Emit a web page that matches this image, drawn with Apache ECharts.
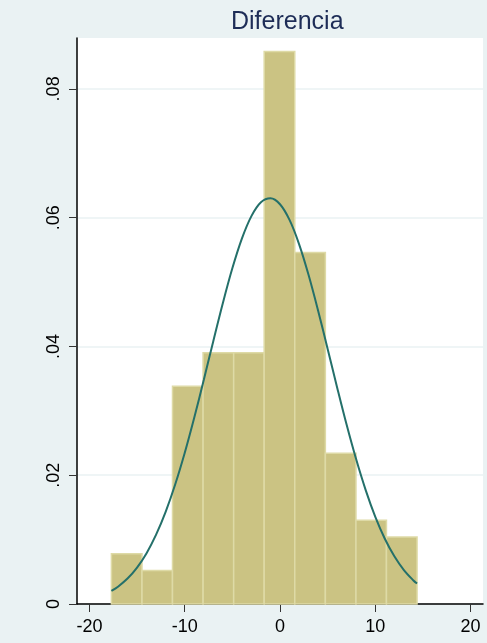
<!DOCTYPE html>
<html>
<head>
<meta charset="utf-8">
<script src="https://cdn.jsdelivr.net/npm/echarts@6/dist/echarts.min.js"></script>
<style>
  html, body { margin: 0; padding: 0; background: #EAF2F3; }
  #chart { width: 487px; height: 643px; }
</style>
</head>
<body>
<div id="chart"></div>
<script>
// histogram bins (edges) and density heights
const binEdges = [-17.69, -14.48, -11.28, -8.07, -4.86, -1.66, 1.55, 4.76, 7.97, 11.17, 14.38];
const density = [0.0078, 0.0052, 0.0338, 0.0390, 0.0390, 0.0858, 0.0546, 0.0234, 0.0130, 0.0104];

// normal density overlay
const curveX = [-17.69, -17, -16, -15, -14, -13, -12, -11, -10, -9, -8, -7, -6, -5, -4, -3, -2, -1,
  0, 1, 2, 3, 4, 5, 6, 7, 8, 9, 10, 11, 12, 13, 14, 14.38];
const curveY = [0.00203, 0.00269, 0.00395, 0.00566, 0.00790, 0.01077, 0.01431, 0.01855, 0.02345,
  0.02892, 0.03479, 0.04082, 0.04671, 0.05213, 0.05674, 0.06024, 0.06239, 0.06301,
  0.06208, 0.05965, 0.05590, 0.05109, 0.04555, 0.03961, 0.03360, 0.02779, 0.02243,
  0.01765, 0.01354, 0.01014, 0.00740, 0.00527, 0.00366, 0.00317];

const xTicks = [-20, -10, 0, 10, 20];
const yTicks = [0, 0.02, 0.04, 0.06, 0.08];

const chart = echarts.init(document.getElementById('chart'));

const histData = density.map((d, i) => [binEdges[i], binEdges[i + 1], d]);
const lineData = curveX.map((x, i) => [x, curveY[i]]);

const option = {
  backgroundColor: '#EAF2F3',
  animation: false,
  title: {
    text: 'Diferencia',
    left: 226,
    top: 5,
    textStyle: {
      color: '#1E2D57',
      fontSize: 25,
      fontWeight: 'normal',
      fontFamily: 'Liberation Sans'
    }
  },
  grid: {
    left: 77,
    right: 4,
    top: 38,
    bottom: 39,
    show: true,
    backgroundColor: '#ffffff',
    borderWidth: 0
  },
  xAxis: {
    type: 'value',
    min: -21.3,
    max: 21.3,
    axisLine: { show: true, onZero: false, lineStyle: { color: '#000', width: 1.5 } },
    axisTick: { show: true, length: 8, customValues: xTicks, lineStyle: { color: '#333' } },
    axisLabel: {
      customValues: xTicks,
      margin: 14,
      color: '#000',
      fontSize: 18,
      fontFamily: 'Liberation Sans'
    },
    splitLine: { show: false }
  },
  yAxis: {
    type: 'value',
    min: 0,
    max: 0.0879,
    axisLine: { show: true, onZero: false, lineStyle: { color: '#000', width: 1.5 } },
    axisTick: { show: true, length: 8, customValues: yTicks, lineStyle: { color: '#333' } },
    axisLabel: {
      customValues: yTicks,
      rotate: 90,
      margin: 14,
      color: '#000',
      fontSize: 18,
      fontFamily: 'Liberation Sans',
      formatter: v => (v === 0 ? '0' : String(+v.toFixed(2)).replace('0.', '.'))
    },
    splitLine: { show: true, lineStyle: { color: '#EAF2F3', width: 1.5 } }
  },
  series: [
    {
      type: 'custom',
      data: histData,
      encode: { x: [0, 1], y: 2 },
      renderItem: (params, api) => {
        const p0 = api.coord([api.value(0), api.value(2)]);
        const p1 = api.coord([api.value(1), 0]);
        return {
          type: 'rect',
          shape: { x: p0[0], y: p0[1], width: p1[0] - p0[0], height: p1[1] - p0[1] },
          style: { fill: '#CBC383', stroke: '#DEDAA6', lineWidth: 1.5 }
        };
      },
      z: 2
    },
    {
      type: 'line',
      data: lineData,
      smooth: 0.35,
      showSymbol: false,
      lineStyle: { color: '#24706A', width: 2 },
      z: 3
    }
  ]
};

chart.setOption(option);
</script>
</body>
</html>
